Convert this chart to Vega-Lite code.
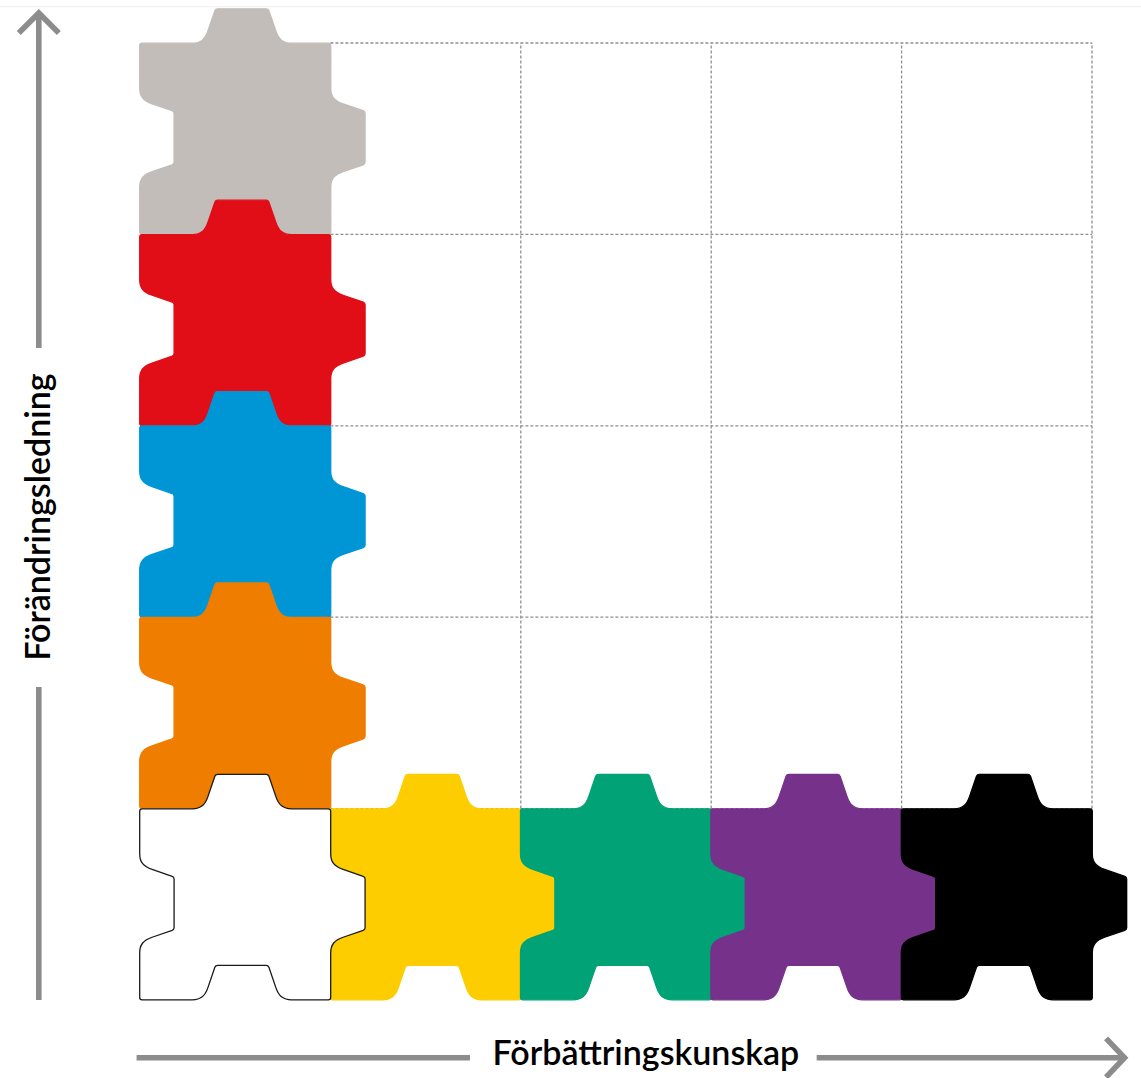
{
  "$schema": "https://vega.github.io/schema/vega-lite/v6.json",
  "autosize": "none",
  "width": 952,
  "height": 957,
  "padding": {"left": 140, "top": 43, "right": 49, "bottom": 78},
  "background": "white",
  "config": {"view": {"stroke": null}},
  "datasets": {
    "grid": [
      {"x": 1, "y": 1, "x2": 1, "y2": 5},
      {"x": 2, "y": 1, "x2": 2, "y2": 5},
      {"x": 3, "y": 1, "x2": 3, "y2": 5},
      {"x": 4, "y": 1, "x2": 4, "y2": 5},
      {"x": 5, "y": 1, "x2": 5, "y2": 5},
      {"x": 1, "y": 1, "x2": 5, "y2": 1},
      {"x": 1, "y": 2, "x2": 5, "y2": 2},
      {"x": 1, "y": 3, "x2": 5, "y2": 3},
      {"x": 1, "y": 4, "x2": 5, "y2": 4},
      {"x": 1, "y": 5, "x2": 5, "y2": 5}
    ],
    "border": [
      {"x": -0.74, "y": 5.19, "x2": 5.26, "y2": 5.19}
    ],
    "arrowLines": [
      {"x": -0.5315, "y": 0, "x2": -0.5315, "y2": 1.635},
      {"x": -0.5315, "y": 3.406, "x2": -0.5315, "y2": 5.157},
      {"x": -0.018, "y": -0.302, "x2": 1.733, "y2": -0.302},
      {"x": 3.554, "y": -0.302, "x2": 5.171, "y2": -0.302}
    ],
    "pieces": [
      {"piece": "grå", "col": 0.5, "row": 4.5},
      {"piece": "röd", "col": 0.5, "row": 3.5},
      {"piece": "blå", "col": 0.5, "row": 2.5},
      {"piece": "orange", "col": 0.5, "row": 1.5},
      {"piece": "gul", "col": 1.5, "row": 0.5},
      {"piece": "grön", "col": 2.5, "row": 0.5},
      {"piece": "lila", "col": 3.5, "row": 0.5},
      {"piece": "svart", "col": 4.5, "row": 0.5},
      {"piece": "vit", "col": 0.5, "row": 0.5}
    ]
  },
  "layer": [
    {
      "data": {"name": "border"},
      "mark": {"type": "rule", "color": "#eeeeee", "strokeWidth": 1},
      "encoding": {
        "x": {"field": "x", "type": "quantitative", "scale": {"domain": [0, 5], "nice": false, "zero": false}, "axis": null},
        "y": {"field": "y", "type": "quantitative", "scale": {"domain": [0, 5], "nice": false, "zero": false}, "axis": null},
        "x2": {"field": "x2"},
        "y2": {"field": "y2"}
      }
    },
    {
      "data": {"name": "grid"},
      "mark": {"type": "rule", "color": "#8f8f8f", "strokeWidth": 1.3, "strokeDash": [3, 2]},
      "encoding": {
        "x": {"field": "x", "type": "quantitative", "scale": {"domain": [0, 5], "nice": false, "zero": false}, "axis": null},
        "y": {"field": "y", "type": "quantitative", "scale": {"domain": [0, 5], "nice": false, "zero": false}, "axis": null},
        "x2": {"field": "x2"},
        "y2": {"field": "y2"}
      }
    },
    {
      "data": {"name": "pieces"},
      "mark": {
        "type": "point",
        "filled": true,
        "opacity": 1,
        "size": 36481,
        "strokeWidth": 1.3,
        "shape": "M -1,-0.975 Q -1,-1 -0.975,-1 L -0.45,-1 C -0.36,-1 -0.315,-1.04 -0.285,-1.13 L -0.213,-1.34 Q -0.205,-1.36 -0.185,-1.36 L 0.325,-1.36 Q 0.345,-1.36 0.353,-1.34 L 0.425,-1.13 C 0.455,-1.04 0.5,-1 0.59,-1 L 0.975,-1 Q 1,-1 1,-0.975 L 1,-0.53 C 1,-0.44 1.04,-0.395 1.13,-0.365 L 1.34,-0.293 Q 1.36,-0.285 1.36,-0.265 L 1.36,0.245 Q 1.36,0.265 1.34,0.273 L 1.13,0.345 C 1.04,0.375 1,0.42 1,0.51 L 1,0.975 Q 1,1 0.975,1 L 0.59,1 C 0.5,1 0.455,0.96 0.425,0.87 L 0.353,0.66 Q 0.345,0.64 0.325,0.64 L -0.185,0.64 Q -0.205,0.64 -0.213,0.66 L -0.285,0.87 C -0.315,0.96 -0.36,1 -0.45,1 L -0.975,1 Q -1,1 -1,0.975 L -1,0.51 C -1,0.42 -0.96,0.375 -0.87,0.345 L -0.66,0.273 Q -0.64,0.265 -0.64,0.245 L -0.64,-0.265 Q -0.64,-0.285 -0.66,-0.293 L -0.87,-0.365 C -0.96,-0.395 -1,-0.44 -1,-0.53 Z"
      },
      "encoding": {
        "x": {"field": "col", "type": "quantitative", "scale": {"domain": [0, 5], "nice": false, "zero": false}, "axis": null},
        "y": {"field": "row", "type": "quantitative", "scale": {"domain": [0, 5], "nice": false, "zero": false}, "axis": null},
        "fill": {
          "field": "piece", "type": "nominal", "legend": null,
          "scale": {
            "domain": ["grå", "röd", "blå", "orange", "gul", "grön", "lila", "svart", "vit"],
            "range": ["#c2bdb9", "#e10d17", "#0096d6", "#ef7d00", "#fdcd00", "#00a276", "#76328a", "#000000", "#ffffff"]
          }
        },
        "stroke": {
          "field": "piece", "type": "nominal", "legend": null,
          "scale": {
            "domain": ["grå", "röd", "blå", "orange", "gul", "grön", "lila", "svart", "vit"],
            "range": ["#c2bdb9", "#e10d17", "#0096d6", "#ef7d00", "#fdcd00", "#00a276", "#76328a", "#000000", "#1a1a1a"]
          }
        }
      }
    },
    {
      "data": {"name": "arrowLines"},
      "mark": {"type": "rule", "color": "#8c8c8c", "strokeWidth": 5.6},
      "encoding": {
        "x": {"field": "x", "type": "quantitative", "scale": {"domain": [0, 5], "nice": false, "zero": false}, "axis": null},
        "y": {"field": "y", "type": "quantitative", "scale": {"domain": [0, 5], "nice": false, "zero": false}, "axis": null},
        "x2": {"field": "x2"},
        "y2": {"field": "y2"}
      }
    },
    {
      "data": {"values": [{"x": -0.5315, "y": 5.157}]},
      "mark": {"type": "point", "filled": false, "opacity": 1, "color": "#8c8c8c", "strokeWidth": 5.6, "size": 1600, "shape": "M -1,1 L 0,0 L 1,1"},
      "encoding": {
        "x": {"field": "x", "type": "quantitative", "scale": {"domain": [0, 5], "nice": false, "zero": false}, "axis": null},
        "y": {"field": "y", "type": "quantitative", "scale": {"domain": [0, 5], "nice": false, "zero": false}, "axis": null}
      }
    },
    {
      "data": {"values": [{"x": 5.171, "y": -0.302}]},
      "mark": {"type": "point", "filled": false, "opacity": 1, "color": "#8c8c8c", "strokeWidth": 5.6, "size": 1369, "shape": "M -1,-1.05 L 0,0 L -1,1.05"},
      "encoding": {
        "x": {"field": "x", "type": "quantitative", "scale": {"domain": [0, 5], "nice": false, "zero": false}, "axis": null},
        "y": {"field": "y", "type": "quantitative", "scale": {"domain": [0, 5], "nice": false, "zero": false}, "axis": null}
      }
    },
    {
      "data": {"values": [{"label": "Förbättringskunskap", "x": 2.657, "y": -0.3396}]},
      "mark": {"type": "text", "font": "Lato", "fontSize": 34, "fontWeight": 600, "color": "#000000", "align": "center", "baseline": "alphabetic"},
      "encoding": {
        "x": {"field": "x", "type": "quantitative", "scale": {"domain": [0, 5], "nice": false, "zero": false}, "axis": null},
        "y": {"field": "y", "type": "quantitative", "scale": {"domain": [0, 5], "nice": false, "zero": false}, "axis": null},
        "text": {"field": "label"}
      }
    },
    {
      "data": {"values": [{"label": "Förändringsledning", "x": -0.4727, "y": 2.523}]},
      "mark": {"type": "text", "font": "Lato", "fontSize": 34, "fontWeight": 600, "color": "#000000", "align": "center", "baseline": "alphabetic", "angle": 270},
      "encoding": {
        "x": {"field": "x", "type": "quantitative", "scale": {"domain": [0, 5], "nice": false, "zero": false}, "axis": null},
        "y": {"field": "y", "type": "quantitative", "scale": {"domain": [0, 5], "nice": false, "zero": false}, "axis": null},
        "text": {"field": "label"}
      }
    }
  ]
}
